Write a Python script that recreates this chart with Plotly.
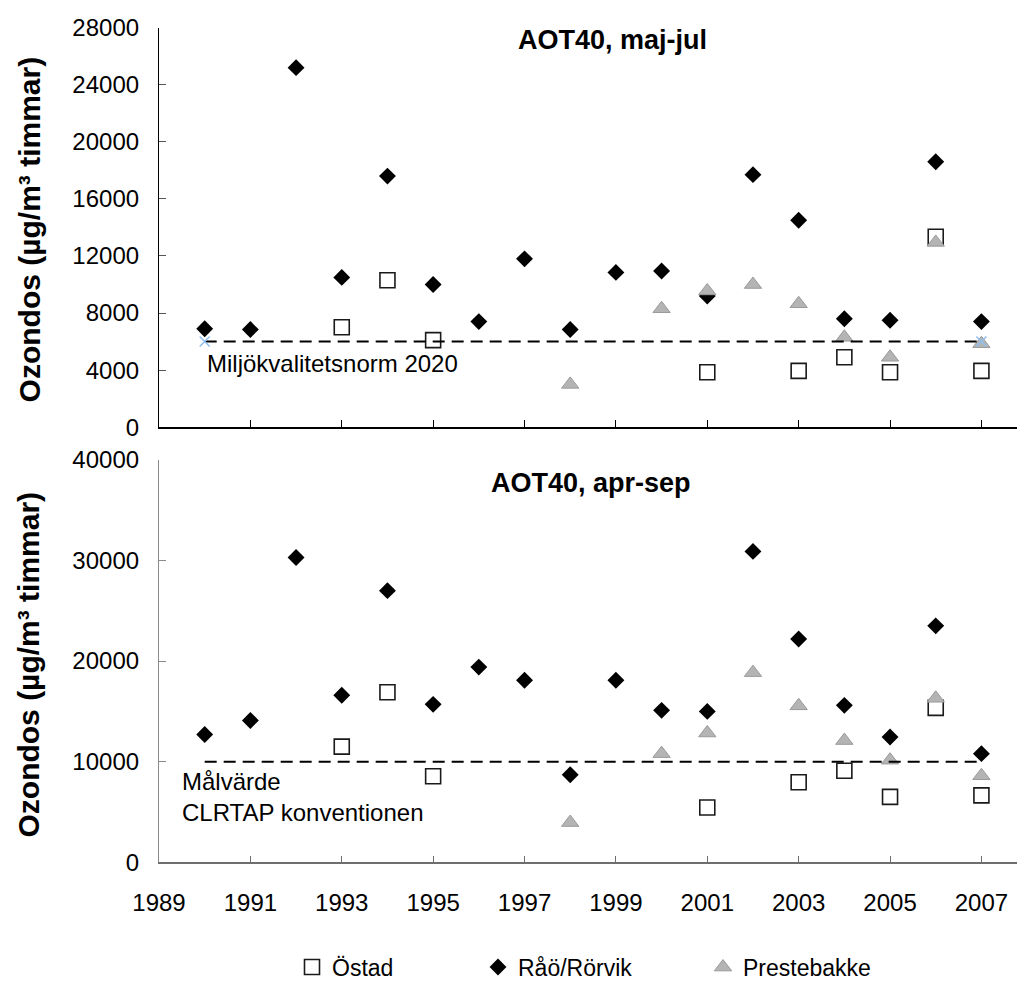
import plotly.graph_objects as go

W, H = 1017, 989

# --- AOT40, maj-jul (top) ---
top_rao_years = list(range(1990, 2008))
top_rao = [6900, 6850, 25200, 10500, 17600, 10000, 7400, 11800, 6850,
           10850, 10950, 9200, 17700, 14500, 7600, 7500, 18600, 7400]
top_ostad_years = [1993, 1994, 1995, 2001, 2003, 2004, 2005, 2006, 2007]
top_ostad = [7000, 10300, 6100, 3850, 3950, 4900, 3850, 13350, 3950]
top_preste_years = [1998, 2000, 2001, 2002, 2003, 2004, 2005, 2006, 2007]
top_preste = [3000, 8300, 9550, 10000, 8650, 6300, 4900, 12950, 5850]
top_norm_years = [1990, 2007]
top_norm = [6000, 6000]

# --- AOT40, apr-sep (bottom) ---
bot_rao_years = list(range(1990, 2008))
bot_rao = [12700, 14100, 30300, 16600, 27000, 15700, 19400, 18100, 8700,
           18100, 15100, 15000, 30900, 22200, 15600, 12450, 23500, 10800]
bot_ostad_years = [1993, 1994, 1995, 2001, 2003, 2004, 2005, 2006, 2007]
bot_ostad = [11500, 16900, 8550, 5450, 7950, 9100, 6500, 15350, 6650]
bot_preste_years = [1998, 2000, 2001, 2002, 2003, 2004, 2005, 2006, 2007]
bot_preste = [3950, 10800, 12850, 18850, 15550, 12100, 10150, 16300, 8600]
bot_norm_years = [1990, 2007]
bot_norm = [10000, 10000]

x_ticks = list(range(1989, 2008, 2))
top_y_ticks = list(range(0, 28001, 4000))
bot_y_ticks = list(range(0, 40001, 10000))

FONT = "Liberation Sans, Arial, sans-serif"

sq = dict(symbol="square", size=15, color="white", line=dict(color="#1a1a1a", width=1.6))
dia = dict(symbol="diamond", size=13, color="black", line=dict(color="black", width=0))
tri = dict(symbol="triangle-up", size=15, color="#b4b4b4", line=dict(color="#9a9a9a", width=1))

fig = go.Figure()

# top traces
fig.add_trace(go.Scatter(x=top_ostad_years, y=top_ostad, mode="markers", marker=sq,
                         name="Östad", legend="legend", xaxis="x", yaxis="y"))
fig.add_trace(go.Scatter(x=top_rao_years, y=top_rao, mode="markers", marker=dia,
                         name="Råö/Rörvik", legend="legend2", xaxis="x", yaxis="y"))
fig.add_trace(go.Scatter(x=top_preste_years, y=top_preste, mode="markers", marker=tri,
                         name="Prestebakke", legend="legend3", xaxis="x", yaxis="y"))
fig.add_trace(go.Scatter(x=top_norm_years, y=top_norm, mode="lines+markers",
                         line=dict(color="black", width=2, dash="12px,7px"),
                         marker=dict(symbol="x-thin", size=10, line=dict(color="#8fbff0", width=1.5)),
                         showlegend=False, xaxis="x", yaxis="y"))

# bottom traces
fig.add_trace(go.Scatter(x=bot_ostad_years, y=bot_ostad, mode="markers", marker=sq,
                         showlegend=False, xaxis="x2", yaxis="y2"))
fig.add_trace(go.Scatter(x=bot_rao_years, y=bot_rao, mode="markers", marker=dia,
                         showlegend=False, xaxis="x2", yaxis="y2"))
fig.add_trace(go.Scatter(x=bot_preste_years, y=bot_preste, mode="markers", marker=tri,
                         showlegend=False, xaxis="x2", yaxis="y2"))
fig.add_trace(go.Scatter(x=bot_norm_years, y=bot_norm, mode="lines",
                         line=dict(color="black", width=2, dash="12px,7px"),
                         showlegend=False, xaxis="x2", yaxis="y2"))

xdom = [159 / W, 1.0]
top_dom = [1 - 432 / H, 1 - 28 / H]
bot_dom = [1 - 872 / H, 1 - 465 / H]
xr = [1989, 1989 + 858 / 45.69]

axis_common = dict(showgrid=False, zeroline=False, ticks="inside", ticklen=7,
                   tickfont=dict(family=FONT, size=24, color="black"), automargin=False)

legend_common = dict(orientation="h", yanchor="middle", y=1 - 978 / H, xanchor="left",
                     font=dict(family=FONT, size=23, color="black"),
                     bgcolor="rgba(0,0,0,0)", borderwidth=0, itemwidth=30)

fig.update_layout(
    width=W, height=H,
    margin=dict(l=0, r=0, t=0, b=0),
    paper_bgcolor="white", plot_bgcolor="white",
    font=dict(family=FONT, color="black"),
    xaxis=dict(domain=xdom, range=xr, anchor="y", tickvals=x_ticks, showticklabels=False,
               showline=True, linecolor="black", linewidth=1.5, tickcolor="black", tickwidth=1,
               **axis_common),
    yaxis=dict(domain=top_dom, range=[0, 28000], anchor="x", tickvals=top_y_ticks,
               ticktext=[str(v) for v in top_y_ticks], ticklabelstandoff=14,
               showline=True, linecolor="black", linewidth=1.2, tickcolor="#555", tickwidth=1,
               **axis_common),
    xaxis2=dict(domain=xdom, range=xr, anchor="y2", tickvals=x_ticks,
                ticktext=[str(v) for v in x_ticks], ticklabelstandoff=18,
                showline=True, linecolor="#6e6e6e", linewidth=1.5, tickcolor="#6e6e6e", tickwidth=1,
                **axis_common),
    yaxis2=dict(domain=bot_dom, range=[0, 40000], anchor="x2", tickvals=bot_y_ticks,
                ticktext=[str(v) for v in bot_y_ticks], ticklabelstandoff=14,
                showline=True, linecolor="#8a8a8a", linewidth=1.2, tickcolor="#8a8a8a", tickwidth=1,
                **axis_common),
    legend=dict(x=(314 - 22) / W, **legend_common),
    legend2=dict(x=(500 - 22) / W, **legend_common),
    legend3=dict(x=(725 - 22) / W, **legend_common),
    annotations=[
        dict(text="<b>AOT40, maj-jul</b>", xref="paper", yref="paper", x=612 / W, y=1 - 40 / H,
             xanchor="center", yanchor="middle", showarrow=False,
             font=dict(family=FONT, size=27, color="black")),
        dict(text="<b>AOT40, apr-sep</b>", xref="paper", yref="paper", x=591 / W, y=1 - 488 / H,
             xanchor="center", yanchor="middle", showarrow=False,
             font=dict(family=FONT, size=27, color="black")),
        dict(text="<b>Ozondos (µg/m³ timmar)</b>", xref="paper", yref="paper", x=29 / W, y=1 - 232 / H,
             xanchor="center", yanchor="middle", textangle=-90, showarrow=False,
             font=dict(family=FONT, size=30, color="black")),
        dict(text="<b>Ozondos (µg/m³ timmar)</b>", xref="paper", yref="paper", x=29 / W, y=1 - 672 / H,
             xanchor="center", yanchor="middle", textangle=-90, showarrow=False,
             font=dict(family=FONT, size=30, color="black")),
        dict(text="Miljökvalitetsnorm 2020", xref="paper", yref="paper", x=205 / W, y=1 - 368 / H,
             xanchor="left", yanchor="middle", showarrow=False,
             font=dict(family=FONT, size=24, color="black")),
        dict(text="Målvärde<br>CLRTAP konventionen", xref="paper", yref="paper", x=180 / W, y=1 - 806 / H,
             xanchor="left", yanchor="middle", align="left", showarrow=False,
             font=dict(family=FONT, size=24, color="black")),
    ],
)

fig.write_html("out.html")
